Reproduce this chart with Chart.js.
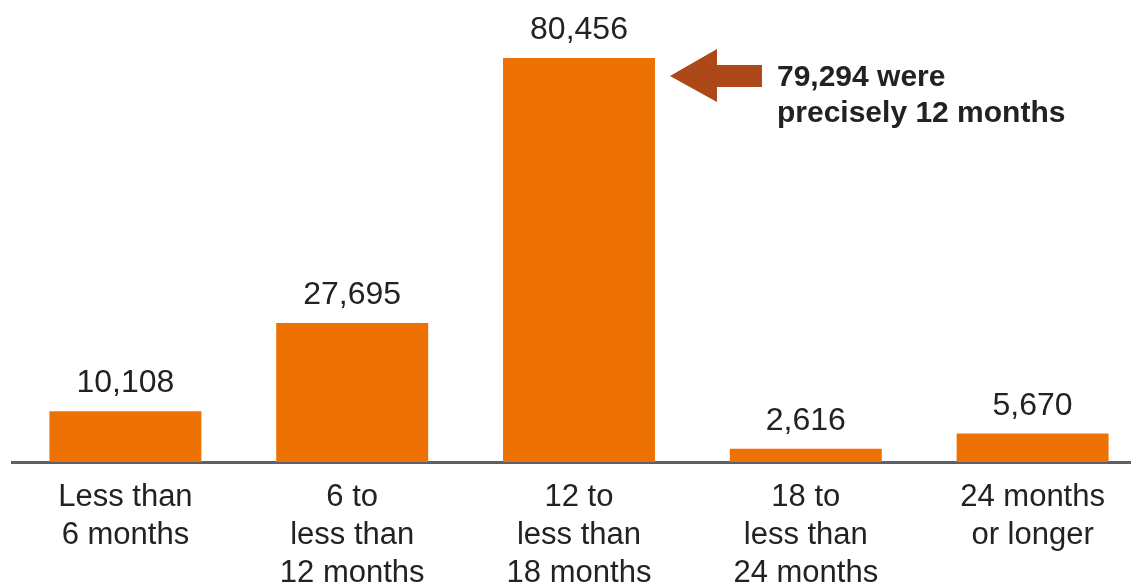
<!DOCTYPE html>
<html>
<head>
<meta charset="utf-8">
<script src="https://cdn.jsdelivr.net/npm/chart.js@4"></script>
<style>
  html, body { margin: 0; padding: 0; background: #fff; overflow: hidden; }
  #wrap { width: 1131px; height: 583px; overflow: hidden; }
</style>
</head>
<body>
<div id="wrap"><canvas id="barChart" width="1146" height="583"></canvas></div>
<script>
// categories / values
var categories = [
    ['Less than', '6 months'],
    ['6 to', 'less than', '12 months'],
    ['12 to', 'less than', '18 months'],
    ['18 to', 'less than', '24 months'],
    ['24 months', 'or longer']
];
var counts = [10108, 27695, 80456, 2616, 5670];
var noteLines = ['79,294 were', 'precisely 12 months'];
var noteIndex = 2;

var barColor = '#ee7203';
var textColor = '#222222';
var fontFam = '"Liberation Sans", Arial, sans-serif';

// numbers above bars + arrow note
var labelPlugin = {
    id: 'labelPlugin',
    afterDatasetsDraw: function (chart) {
        var ctx = chart.ctx;
        var meta = chart.getDatasetMeta(0);
        ctx.save();
        ctx.fillStyle = textColor;
        ctx.font = '32px ' + fontFam;
        ctx.textAlign = 'center';
        ctx.textBaseline = 'alphabetic';
        meta.data.forEach(function (bar, i) {
            ctx.fillText(counts[i].toLocaleString('en-US'), bar.x, bar.y - 19);
        });

        var b = meta.data[noteIndex];
        var tip = b.x + b.width / 2 + 15;
        var cy = b.y + 18;
        ctx.fillStyle = '#ad4919';
        ctx.beginPath();
        ctx.moveTo(tip, cy);
        ctx.lineTo(tip + 47, cy - 27);
        ctx.lineTo(tip + 47, cy - 11);
        ctx.lineTo(tip + 92, cy - 11);
        ctx.lineTo(tip + 92, cy + 11);
        ctx.lineTo(tip + 47, cy + 11);
        ctx.lineTo(tip + 47, cy + 26);
        ctx.closePath();
        ctx.fill();

        ctx.fillStyle = textColor;
        ctx.font = 'bold 30px ' + fontFam;
        ctx.textAlign = 'left';
        for (var k = 0; k < noteLines.length; k++) {
            ctx.fillText(noteLines[k], tip + 107, cy + 10 + k * 36);
        }
        ctx.restore();
    }
};

var barChart = new Chart(document.getElementById('barChart').getContext('2d'), {
    type: 'bar',
    data: {
        labels: categories,
        datasets: [{
            data: counts,
            backgroundColor: barColor,
            borderWidth: 0,
            barPercentage: 1,
            categoryPercentage: 0.67
        }]
    },
    options: {
        responsive: false,
        animation: false,
        layout: { padding: { left: 12, right: 0, top: 0, bottom: 0 } },
        plugins: {
            legend: { display: false },
            tooltip: { enabled: false }
        },
        scales: {
            x: {
                grid: { display: false, drawTicks: false },
                border: { display: true, color: '#5e5f66', width: 3 },
                ticks: {
                    color: textColor,
                    padding: 16,
                    maxRotation: 0,
                    autoSkip: false,
                    font: { family: fontFam, size: 31, lineHeight: 1.23 }
                },
                afterFit: function (scale) { scale.height = 121; }
            },
            y: {
                display: false,
                min: 0,
                max: 92000
            }
        }
    },
    plugins: [labelPlugin]
});
</script>
</body>
</html>
